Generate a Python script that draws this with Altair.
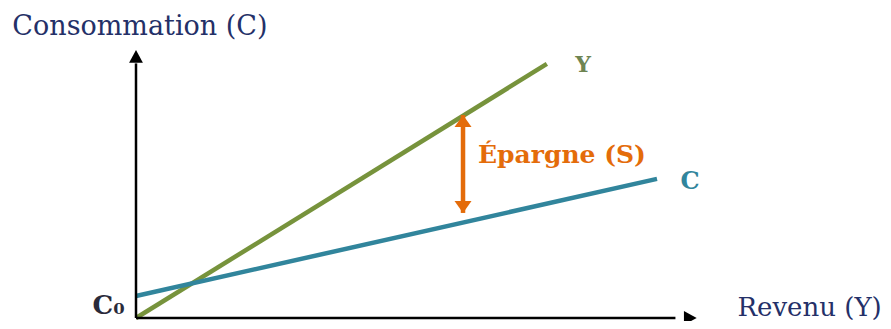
import altair as alt
import pandas as pd

# ---- data (x = Revenu, y = Consommation, arbitrary units) ----
axis_len_x = [0, 96.5]
axis_len_y = [0, 95]
axis_tip_x = [100.3]
axis_tip_y = [100]

y_line_x = [0, 73.5]
y_line_y = [0, 94.8]

c_line_x = [0, 93.2]
c_line_y = [8.2, 51.9]

s_x = [58.5]
s_top = [75.7]
s_bottom = [39.2]

reg_text = ["Consommation (C)", "Revenu (Y)"]
reg_x = [0.7, 133.4]
reg_y = [108.6, 0.9]
reg_align = ["center", "right"]
reg_baseline = ["middle", "alphabetic"]
reg_size = [27, 26]
reg_color = ["#243068", "#243068"]

bold_text = ["Y", "C", "Épargne (S)", "C₀"]
bold_x = [80.0, 99.1, 76.2, -4.9]
bold_y = [94.4, 50.7, 60.8, 4.6]
bold_color = ["#6e8452", "#31859c", "#e46c0a", "#2a2a3a"]
bold_size = [22, 24, 25, 26]

SERIF = "DejaVu Serif"
xs = alt.Scale(domain=[0, 100], nice=False, zero=False)
ys = alt.Scale(domain=[0, 100], nice=False, zero=False)

def X(f):
    return alt.X(f, type="quantitative", scale=xs, axis=None)

def Y(f):
    return alt.Y(f, type="quantitative", scale=ys, axis=None)

# axes with arrows
yaxis_df = pd.DataFrame({"x": [0], "y0": [axis_len_y[0]], "y1": [axis_len_y[1]]})
xaxis_df = pd.DataFrame({"y": [0], "x0": [axis_len_x[0]], "x1": [axis_len_x[1]]})
yaxis = alt.Chart(yaxis_df).mark_rule(color="black", strokeWidth=2.5).encode(
    x=X("x"), y=Y("y0"), y2="y1")
xaxis = alt.Chart(xaxis_df).mark_rule(color="black", strokeWidth=2.5).encode(
    y=Y("y"), x=X("x0"), x2="x1")
ytip = alt.Chart(pd.DataFrame({"x": [0], "y": axis_tip_y})).mark_point(
    shape="M0,0L-1,1.85L1,1.85Z", filled=True, color="black", opacity=1, size=190
).encode(x=X("x"), y=Y("y"))
xtip = alt.Chart(pd.DataFrame({"x": axis_tip_x, "y": [0]})).mark_point(
    shape="M0,0L-1.85,-1L-1.85,1Z", filled=True, color="black", opacity=1, size=190
).encode(x=X("x"), y=Y("y"))

# Y and C lines
lines_df = pd.DataFrame({
    "x0": [y_line_x[0], c_line_x[0]], "x1": [y_line_x[1], c_line_x[1]],
    "y0": [y_line_y[0], c_line_y[0]], "y1": [y_line_y[1], c_line_y[1]],
    "s": ["Y", "C"], "col": ["#77933c", "#31859c"],
})
lines = alt.Chart(lines_df).mark_rule(strokeWidth=4.5, strokeCap="butt").encode(
    x=X("x0"), x2="x1", y=Y("y0"), y2="y1",
    color=alt.Color("col:N", scale=None))

# savings arrow
s_df = pd.DataFrame({"x": s_x, "top": s_top, "bottom": s_bottom})
shaft = alt.Chart(s_df).mark_rule(color="#e46c0a", strokeWidth=4.5).encode(
    x=X("x"), y=Y("top"), y2="bottom")
s_up = alt.Chart(s_df).mark_point(
    shape="M0,0L-1,1.4L1,1.4Z", filled=True, color="#e46c0a", opacity=1, size=289
).encode(x=X("x"), y=Y("top"))
s_down = alt.Chart(s_df).mark_point(
    shape="M0,0L-1,-1.4L1,-1.4Z", filled=True, color="#e46c0a", opacity=1, size=289
).encode(x=X("x"), y=Y("bottom"))

# labels
reg_layers = []
for t, x, y, a, b, s, c in zip(reg_text, reg_x, reg_y, reg_align,
                               reg_baseline, reg_size, reg_color):
    d = pd.DataFrame({"t": [t], "x": [x], "y": [y]})
    reg_layers.append(
        alt.Chart(d).mark_text(font=SERIF, fontSize=s, align=a,
                               baseline=b, color=c).encode(
            x=X("x"), y=Y("y"), text="t:N"))

bold_df = pd.DataFrame({"t": bold_text, "x": bold_x, "y": bold_y,
                        "c": bold_color, "s": bold_size})
bold = alt.Chart(bold_df).mark_text(font=SERIF, fontWeight="bold", align="center",
                                    baseline="middle").encode(
    x=X("x"), y=Y("y"), text="t:N", color=alt.Color("c:N", scale=None),
    size=alt.Size("s:Q", scale=None))

chart = alt.layer(
    lines, yaxis, xaxis, ytip, xtip, shaft, s_up, s_down, *reg_layers, bold
).properties(
    width=559, height=268,
    padding={"left": 128, "top": 42, "right": 188, "bottom": 3},
    autosize="none", background="white",
).configure_view(stroke=None)

chart.save("out.html", embed_options={"renderer": "svg", "actions": False})
